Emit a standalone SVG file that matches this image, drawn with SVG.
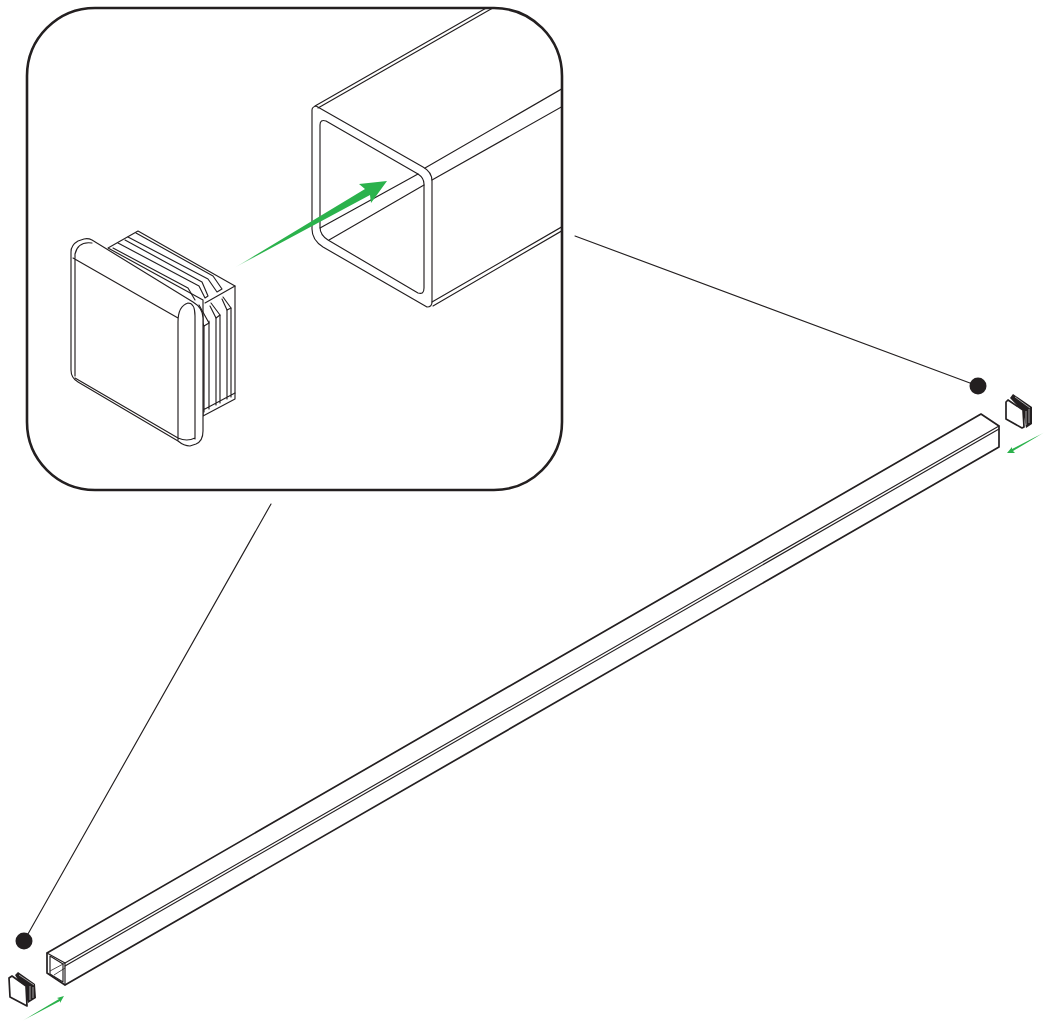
<svg xmlns="http://www.w3.org/2000/svg" width="1045" height="1025" viewBox="0 0 1045 1025">
<style>
.l{fill:none;stroke:#231f20;stroke-width:1.15;stroke-linejoin:round;stroke-linecap:round}
.t{fill:none;stroke:#231f20;stroke-width:1.7;stroke-linejoin:round;stroke-linecap:round}
.s{fill:none;stroke:#231f20;stroke-width:.8;stroke-linejoin:round}
.r{fill:none;stroke:#fff;stroke-width:.6}
.w{fill:#fff}
.d{fill:#231f20}
</style>
<defs>
<linearGradient id="g1" gradientUnits="userSpaceOnUse" x1="234" y1="268" x2="256" y2="255"><stop offset="0" stop-color="#2bb24c" stop-opacity="0"/><stop offset="1" stop-color="#2bb24c"/></linearGradient>
<linearGradient id="g2" gradientUnits="userSpaceOnUse" x1="22" y1="1021" x2="32" y2="1015"><stop offset="0" stop-color="#2bb24c" stop-opacity="0"/><stop offset="1" stop-color="#2bb24c"/></linearGradient>
<linearGradient id="g3" gradientUnits="userSpaceOnUse" x1="1045" y1="432" x2="1036" y2="437"><stop offset="0" stop-color="#2bb24c" stop-opacity="0"/><stop offset="1" stop-color="#2bb24c"/></linearGradient>
<clipPath id="panelClip"><rect x="27" y="8" width="535" height="482" rx="68"/></clipPath>
</defs>
<g id="connectors">
<path class="l" d="M575 236L978 386M271 504L24 941"/>
<circle class="d" cx="978" cy="386" r="8.5"/>
<circle class="d" cx="24" cy="941" r="8.5"/>
</g>
<g id="panel">
<rect x="27" y="8" width="535" height="482" rx="68" fill="#fff" stroke="#231f20" stroke-width="2.6"/>
</g>
<g id="zoom-tube" clip-path="url(#panelClip)">
<path class="l" d="M315 106L495 3M318 108L498 5M425 168L565 87M432 180L565 105M432 302L565 225M433 306L565 229"/>
<path class="l" d="M316 106L423 167Q432 172 432 181L432 302Q432 307 427 307L323 247Q312 240 312 229L312 110Q312 107 316 106Z"/>
<path class="l" d="M326 121L418 174Q424 178 424 184L424 288Q424 295 418 293L328 240Q320 235 320 227L320 125Q320 119 326 121Z"/>
<path class="l" d="M320 228L418 174M329 240L424 185"/>
</g>
<g id="zoom-arrow">
<path fill="url(#g1)" d="M234 268L365 189L359 184L387 181L371 203L370 195Z"/>
</g>
<g id="zoom-cap">
<path class="l w" d="M108 248L138 231L235 286L235 399L203 416L203 300Z"/>
<path class="l" d="M136 233L213 276L222 289L217 292L208 279L128 237M125 240L202 282L208 296L205 298L199 286L118 243M113 248L188 288L195 300"/>
<path class="l" d="M205 303L235 286M199 305L209 323L204 326L199 316M211 303L220 315L216 318L210 306M223 297L231 308L227 310L222 299"/>
<path class="l" d="M204 326V412M209 321V409M216 318V405M220 315V403M227 310V399M231 308V397M203 410L235 393"/>
<path class="l w" d="M71 252Q71 245 78 241L84 239Q88 238 92 240L193 302Q203 308 203 318L203 431Q203 441 196 444L190 446Q184 446 178 441L78 382Q71 378 71 370Z"/>
<path class="l" d="M73 258L178 318M178 440V322Q178 306 188 303Q195 303 195 316V439M92 243Q78 241 75 254V376M75 378L178 438M178 438Q187 442 195 438"/>
</g>
<g id="long-tube">
<path class="t" d="M47 953L981 414L999 426L999 447L65 985L47 973Z"/>
<path class="l" d="M65 963L999 426"/>
<path class="l" d="M65 985V963L47 953"/>
<path class="l" d="M65 966L999 429"/>
<path class="l" d="M50 956L63 964V982L50 974Z"/>
<path class="s" d="M50 971L65 963M54 975L65 968"/>
</g>
<g id="end-cap-left">
<path class="d" d="M15 975L18 972L35 984L36 998L28 1003L24 990Z"/>
<path class="r" d="M19 975L34 985M30 986V1000M33 987V998"/>
<path class="t w" d="M9 978L12 976L26 986L27 1006L10 997Z"/>
</g>
<g id="end-cap-right">
<path class="d" d="M1010 398L1013 394L1032 407V424L1026 428L1023 412Z"/>
<path class="r" d="M1015 397L1030 408M1026 411V425M1029 409V423"/>
<path class="t w" d="M1006 402L1008 400L1023 410L1024 427L1022 428L1006 419Z"/>
</g>
<g id="small-arrows">
<path fill="url(#g2)" d="M22 1021L59 999L57 998L64 996L60 1003L60 1001Z"/>
<path fill="url(#g3)" d="M1045 432L1013 451L1015 453L1007 453L1012 447L1012 449Z"/>
</g>
</svg>
